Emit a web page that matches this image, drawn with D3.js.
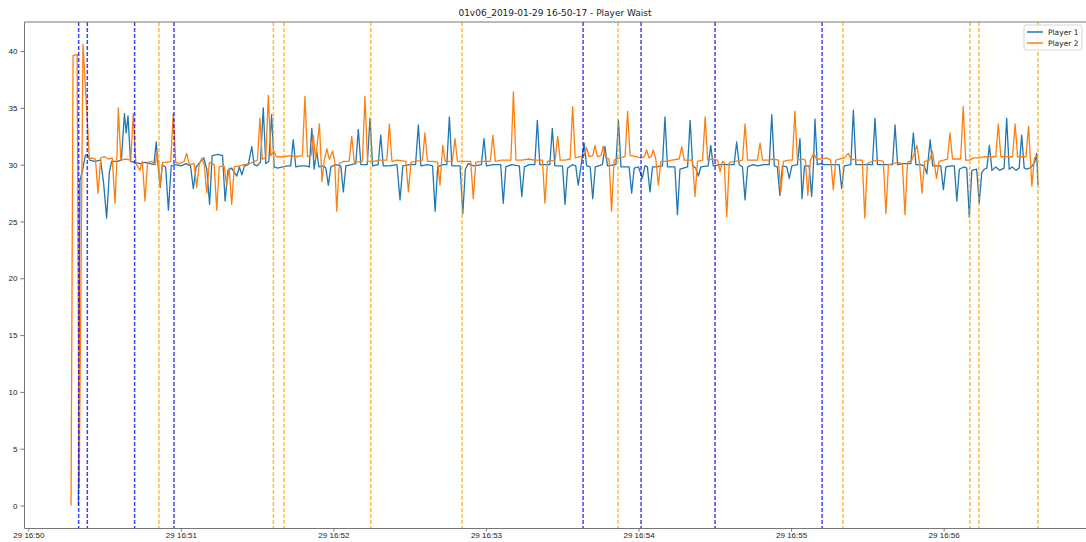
<!DOCTYPE html>
<html>
<head>
<meta charset="utf-8">
<script src="https://cdn.jsdelivr.net/npm/d3@7"></script>
<style>
  body { margin: 0; background: #fff; }
  svg { font-family: "DejaVu Sans", sans-serif; }
  .tick text { fill: #222; font-size: 8px; }
  .domain, .tick line { stroke: #777; }
</style>
</head>
<body>
<svg id="chart" width="1086" height="542"></svg>
<script>
// seconds after 29 16:50:00, value
const player1 = [
  [19.7, 0], [20.3, 28.6], [21.4, 29.6], [22.4, 30.8], [23.2, 30.9], [24.2, 30.4], [26, 30.3], [28.4, 30.4],
  [29.6, 28.4], [30.8, 25.3], [31.9, 29.4], [32.8, 30.3], [35, 30.3], [36.6, 30.4], [37.8, 34.5], [38.5, 32.8],
  [39.2, 34.3], [40.2, 30.3], [42, 30.2], [44, 30.1], [46, 30.2], [48, 30.1], [49.4, 30.0], [50.3, 32.0],
  [51.2, 29.5], [51.9, 28.0], [52.7, 30.0], [54.0, 29.8], [55.1, 26.0], [56.2, 29.9], [58, 30.0], [60, 29.9],
  [62, 30.1], [63.8, 29.9], [64.9, 27.9], [66.0, 29.8], [67.5, 30.2], [69, 30.6], [70.2, 29.6], [71.3, 26.5],
  [72.3, 30.8], [74.5, 30.9], [76.4, 30.8], [77.4, 26.8], [78.5, 29.5], [80, 29.7], [82.0, 29.0], [83, 29.8],
  [84.0, 29.1], [85, 29.9], [86.5, 30.0], [87.9, 31.6], [88.8, 30.0], [90, 29.9], [91.3, 30.2], [92.4, 35.0],
  [93.4, 30.1], [94.6, 30.3], [95.7, 34.4], [96.7, 29.8], [98, 29.7], [100, 29.8], [102, 29.9], [103.2, 29.9],
  [104.2, 32.2], [105.2, 29.8], [107, 29.9], [109, 29.9], [110.5, 29.8], [111.5, 33.2], [112.4, 29.6], [113.4, 31.2],
  [114.3, 29.8], [116, 29.9], [117, 29.7], [118.0, 28.2], [119, 29.8], [121, 30.0], [122.9, 29.9], [123.9, 27.6],
  [124.9, 29.9], [127, 30.0], [128.8, 30.1], [129.8, 33.1], [130.8, 30.0], [133.3, 30.0], [134.4, 34.1], [135.4, 29.9],
  [137.6, 30.0], [138.6, 32.6], [139.6, 29.9], [142, 29.9], [145, 30.0], [146.2, 26.9], [147.3, 29.9], [150, 30.0],
  [152.3, 30.0], [153.4, 33.5], [154.4, 29.9], [157, 30.0], [159, 29.9], [160.0, 25.9], [161.0, 29.8], [163, 30.0],
  [164.6, 30.0], [165.6, 34.2], [166.6, 29.9], [169.8, 29.9], [170.9, 25.7], [171.9, 29.6], [173, 30.1], [175, 29.9],
  [178.2, 30.0], [179.2, 32.3], [180.2, 29.9], [183, 30.0], [185.8, 30.0], [186.8, 26.6], [187.8, 29.8], [190, 30.0],
  [193.1, 29.9], [194.1, 27.2], [195.1, 29.8], [197, 30.0], [199.2, 30.0], [200.2, 33.9], [201.2, 30.0], [203, 30.0],
  [205.1, 30.0], [206.1, 33.2], [207.1, 29.9], [210.1, 29.9], [211.1, 26.5], [212.1, 29.7], [214, 30.0], [215.3, 29.9],
  [216.3, 28.2], [217.4, 29.9], [218.6, 31.9], [219.6, 29.9], [221, 29.8], [222.0, 27.0], [223.0, 29.8], [225.8, 30.0],
  [226.8, 31.6], [227.8, 29.9], [231.1, 30.0], [232.1, 33.9], [233.1, 29.8], [236.3, 29.8], [237.3, 27.5], [238.3, 29.7],
  [240, 29.8], [241.5, 28.8], [242.5, 29.9], [243.5, 29.8], [244.5, 27.6], [245.5, 29.8], [247, 29.8], [249.4, 29.9],
  [250.4, 34.2], [251.4, 29.8], [254.3, 29.8], [255.3, 25.6], [256.3, 29.6], [259.3, 29.8], [260.3, 33.9], [261.3, 29.9],
  [262.5, 29.7], [263.5, 29.0], [264.5, 29.8], [267.4, 29.9], [268.4, 31.7], [269.4, 29.9], [272, 30.0], [275, 30.0],
  [277.6, 30.0], [278.6, 32.0], [279.6, 30.0], [280.9, 29.8], [281.9, 26.9], [282.9, 29.8], [285, 30.0], [287, 29.9],
  [289, 30.0], [291.4, 30.0], [292.4, 34.4], [293.4, 29.9], [294.6, 29.8], [295.6, 27.3], [296.6, 29.9], [298.3, 29.8],
  [299.3, 28.8], [300.3, 29.9], [302.5, 30.0], [303.5, 32.3], [304.3, 27.0], [305.3, 29.9], [307.1, 29.9], [308.1, 27.2],
  [308.8, 29.9], [309.4, 34.0], [310.3, 30.0], [311.5, 30.1], [313, 30.0], [316, 30.0], [318.9, 30.0], [319.9, 27.9],
  [320.9, 29.9], [323.5, 30.0], [324.5, 34.8], [325.5, 30.0], [328, 30.0], [332.0, 30.0], [333.0, 34.1], [334.0, 30.0],
  [337, 30.0], [339.9, 30.0], [340.9, 33.5], [341.9, 30.0], [344, 30.1], [347.1, 30.1], [348.1, 32.8], [349.1, 30.0],
  [351, 30.0], [352.4, 29.9], [353.4, 29.2], [354.7, 32.2], [355.7, 29.9], [358.9, 29.9], [359.9, 27.8], [360.9, 29.8],
  [363, 29.9], [364.2, 29.9], [365.2, 26.8], [366.2, 29.6], [368, 29.8], [369.1, 29.7], [370.1, 25.4], [371.1, 29.5],
  [373.0, 29.6], [374.0, 26.6], [375.0, 29.3], [376, 29.6], [377, 29.7], [378.0, 31.7], [379, 29.5], [380.5, 29.8],
  [382, 29.5], [383.8, 29.7], [384.8, 34.1], [385.8, 29.6], [387, 29.8], [388.5, 29.5], [389.7, 29.7], [390.7, 32.6],
  [391.7, 29.7], [393, 29.6], [394.5, 29.8], [395.8, 30.2], [396.6, 31.0], [397.1, 28.2]
];

const player2 = [
  [16.8, 0], [17.6, 39.6], [19.2, 39.7], [20.0, 1.5], [21.5, 40.6], [23.2, 33.9], [24.0, 30.5], [25, 30.6],
  [26.4, 30.5], [27.4, 27.5], [28.5, 30.6], [30, 30.7], [31.5, 30.5], [33.0, 30.6], [34.1, 26.6], [34.8, 30.3],
  [35.4, 35.0], [36.4, 30.4], [38, 30.5], [40.3, 30.4], [41.3, 34.5], [42.3, 30.1], [43.9, 29.5], [44.8, 30.3],
  [45.9, 26.8], [46.9, 30.2], [48.5, 30.3], [50.0, 30.0], [50.5, 31.0], [51.3, 30.0], [51.8, 28.1], [52.8, 30.2],
  [54.5, 30.2], [56.0, 30.3], [57.0, 34.5], [58.0, 30.2], [59.5, 30.1], [61.3, 30.3], [62.3, 31.0], [63.3, 30.0],
  [65.2, 30.1], [66.2, 28.0], [67.2, 30.0], [68.3, 30.6], [69.2, 30.0], [70.2, 27.5], [71.2, 30.2], [73.1, 30.0],
  [74.1, 26.0], [75.1, 29.8], [77, 29.9], [78.0, 28.2], [79, 29.7], [80.0, 26.5], [81, 29.8], [83, 29.9],
  [85, 30.0], [87, 30.1], [89, 30.3], [90.1, 30.4], [91.1, 34.1], [92.0, 30.5], [93.4, 30.6], [94.4, 36.1],
  [95.4, 30.8], [96.6, 31.2], [97.6, 30.7], [100, 30.7], [103, 30.8], [105, 30.7], [107.8, 30.8], [108.8, 36.0],
  [109.8, 30.7], [111.2, 30.8], [112.1, 32.6], [113, 30.5], [114.5, 33.6], [115.5, 28.5], [116.4, 30.4], [117.4, 31.4],
  [118.4, 30.5], [119.7, 31.2], [120.5, 30.3], [121.3, 25.9], [122.3, 30.1], [124, 30.3], [126.2, 30.3], [127.2, 32.5],
  [128.2, 30.2], [131.4, 30.3], [132.4, 36.0], [133.4, 30.3], [136, 30.3], [138, 30.4], [141, 30.4], [142.0, 33.6],
  [143.0, 30.3], [145, 30.4], [148.5, 30.3], [149.5, 27.6], [150.5, 30.2], [152, 30.3], [155, 30.4], [156.0, 32.8],
  [157.0, 30.3], [159, 30.3], [161.0, 30.2], [161.9, 28.2], [163.0, 31.7], [164.0, 30.3], [166.8, 30.3], [167.8, 32.3],
  [168.8, 30.3], [171, 30.3], [174.0, 30.3], [175.0, 27.0], [176.0, 30.2], [178, 30.3], [181.7, 30.3], [182.7, 32.6],
  [183.7, 30.3], [186, 30.4], [189.8, 30.4], [190.8, 36.4], [191.8, 30.4], [194, 30.4], [197, 30.5], [199, 30.4],
  [202.2, 30.4], [203.2, 26.6], [204.2, 30.3], [207.2, 30.4], [208.2, 32.5], [209.2, 30.4], [211, 30.4], [213.1, 30.5],
  [214.1, 35.1], [215.1, 30.6], [217, 30.7], [218.6, 30.8], [219.6, 31.5], [220.5, 30.7], [222, 30.8], [222.9, 31.7],
  [223.8, 30.7], [225.2, 30.8], [226.1, 31.6], [227.2, 30.6], [228.4, 30.5], [229.4, 25.9], [230.4, 30.4], [232.5, 30.6],
  [234.7, 30.7], [235.7, 34.7], [236.7, 30.8], [239, 30.7], [241, 30.6], [242.3, 30.7], [243.2, 31.3], [244.1, 30.6],
  [245, 30.7], [245.8, 31.3], [246.8, 30.5], [247.8, 28.2], [248.8, 30.3], [251, 30.3], [253, 30.4], [256.0, 30.5],
  [257.0, 31.6], [258.0, 30.4], [261.2, 30.4], [262.2, 27.2], [263.2, 30.3], [265.2, 30.4], [266.2, 34.2], [267.2, 30.4],
  [269, 30.5], [271.1, 30.4], [272.1, 29.4], [273.0, 30.3], [273.7, 30.2], [274.7, 25.4], [275.7, 30.2], [278, 30.3],
  [280.9, 30.4], [281.9, 33.6], [282.9, 30.4], [285, 30.4], [286.8, 30.4], [287.8, 31.9], [288.8, 30.4], [291, 30.4],
  [293, 30.5], [295.0, 30.4], [296.0, 27.6], [297.0, 30.3], [299, 30.4], [300.5, 30.4], [301.5, 34.7], [302.5, 30.4],
  [304.5, 30.5], [305.6, 30.4], [306.6, 27.3], [307.6, 30.4], [309.0, 31.0], [310, 30.5], [312, 30.5], [314, 30.6],
  [315.6, 30.4], [316.6, 27.8], [317.6, 30.4], [319, 30.5], [321, 30.6], [322.5, 31.0], [323.5, 30.5], [326, 30.4],
  [328.0, 30.4], [329.0, 25.3], [330.0, 30.1], [332, 30.3], [334, 30.4], [336.3, 30.3], [337.3, 25.7], [338.3, 30.0],
  [340, 30.1], [342, 30.2], [343.8, 30.1], [344.8, 25.6], [345.8, 30.2], [347.5, 30.4], [349.5, 31.7], [350.5, 30.2],
  [351.5, 27.5], [352.5, 30.3], [354.5, 30.4], [355.6, 31.2], [356.4, 30.0], [357.2, 28.8], [358.2, 30.3], [360, 30.4],
  [361.5, 30.5], [362.5, 32.8], [363.5, 30.5], [365, 30.5], [366.7, 30.5], [367.7, 35.1], [368.7, 30.4], [370, 30.4],
  [372, 30.6], [374, 30.6], [376, 30.7], [378, 30.7], [380.5, 30.7], [381.5, 33.6], [382.5, 30.7], [385, 30.7],
  [387.1, 30.7], [388.1, 33.6], [389.1, 30.7], [391, 30.7], [392.4, 30.7], [393.4, 33.4], [394.7, 28.1], [395.7, 30.6],
  [397.0, 30.8]
];

// event markers, seconds after 16:50:00
const blueMarks = [19.8, 23.2, 41.8, 57.3, 218.2, 241.0, 270.1, 312.2];
const orangeMarks = [51.4, 96.4, 100.6, 134.7, 170.6, 231.9, 320.4, 370.3, 373.9, 397.1];

const yTicks = [0, 5, 10, 15, 20, 25, 30, 35, 40];
const seriesNames = ['Player 1', 'Player 2'];
const seriesColors = ['#1f77b4', '#ff7f0e'];
const chartTitle = '01v06_2019-01-29 16-50-17 - Player Waist';

const start = new Date(2019, 0, 29, 16, 50, 0);
const toDate = (s) => new Date(start.getTime() + s * 1000);

const plotLeft = 24, plotRight = 1086, plotTop = 22, plotBottom = 528;

const svg = d3.select('#chart');

const x = d3.scaleTime()
  .domain([toDate(-1.7), toDate(416)])
  .range([plotLeft, plotRight]);
const y = d3.scaleLinear()
  .domain([-1.98, 42.56])
  .range([plotBottom, plotTop]);

svg.append('defs').append('clipPath').attr('id', 'clip')
  .append('rect')
    .attr('x', plotLeft).attr('y', plotTop)
    .attr('width', plotRight - plotLeft).attr('height', plotBottom - plotTop);

let plot = svg.append('g').attr('clip-path', 'url(#clip)');

let line = d3.line()
  .x((d) => x(toDate(d[0])))
  .y((d) => y(d[1]));

[player1, player2].forEach((data, i) => {
  plot.append('path')
    .datum(data)
    .attr('fill', 'none')
    .attr('stroke', seriesColors[i])
    .attr('stroke-width', 1.3)
    .attr('stroke-linejoin', 'round')
    .attr('d', line);
});

// dashed event lines over the series
function markLines(marks, color) {
  plot.selectAll(null)
    .data(marks)
    .enter()
    .append('line')
      .attr('x1', (d) => x(toDate(d)))
      .attr('x2', (d) => x(toDate(d)))
      .attr('y1', plotTop)
      .attr('y2', plotBottom)
      .attr('stroke', color)
      .attr('stroke-opacity', 0.75)
      .attr('stroke-width', 1.5)
      .attr('stroke-dasharray', '4,2');
}
markLines(blueMarks, '#0000ff');
markLines(orangeMarks, '#ffa500');

// axes
svg.append('g')
  .attr('transform', `translate(0,${plotBottom})`)
  .call(d3.axisBottom(x)
    .ticks(d3.timeMinute.every(1))
    .tickFormat(d3.timeFormat('%d %H:%M'))
    .tickSize(3.5)
    .tickSizeOuter(0))
  .call((g) => g.selectAll('.tick text').attr('y', 4.5));

svg.append('g')
  .attr('transform', `translate(${plotLeft},0)`)
  .call(d3.axisLeft(y)
    .tickValues(yTicks)
    .tickSize(3.5)
    .tickSizeOuter(0));

// top spine
svg.append('line')
  .attr('x1', plotLeft).attr('x2', plotRight)
  .attr('y1', plotTop).attr('y2', plotTop)
  .attr('stroke', '#777');

svg.append('text')
  .attr('x', (plotLeft + plotRight) / 2)
  .attr('y', 16)
  .attr('text-anchor', 'middle')
  .style('font-size', '9px')
  .attr('fill', '#222')
  .text(chartTitle);

// legend
let legend = svg.append('g').attr('transform', 'translate(1024,25)');
legend.append('rect')
  .attr('width', 58).attr('height', 25)
  .attr('rx', 2)
  .attr('fill', '#fff').attr('fill-opacity', 0.8)
  .attr('stroke', '#ccc').attr('stroke-width', 0.8);

seriesNames.forEach((name, i) => {
  let row = legend.append('g').attr('transform', `translate(0,${7 + i * 11})`);
  row.append('line')
    .attr('x1', 3).attr('x2', 19)
    .attr('stroke', seriesColors[i])
    .attr('stroke-width', 1.5);
  row.append('text')
    .attr('x', 24).attr('dy', '0.35em')
    .style('font-size', '7.5px')
    .attr('fill', '#222')
    .text(name);
});
</script>
</body>
</html>
